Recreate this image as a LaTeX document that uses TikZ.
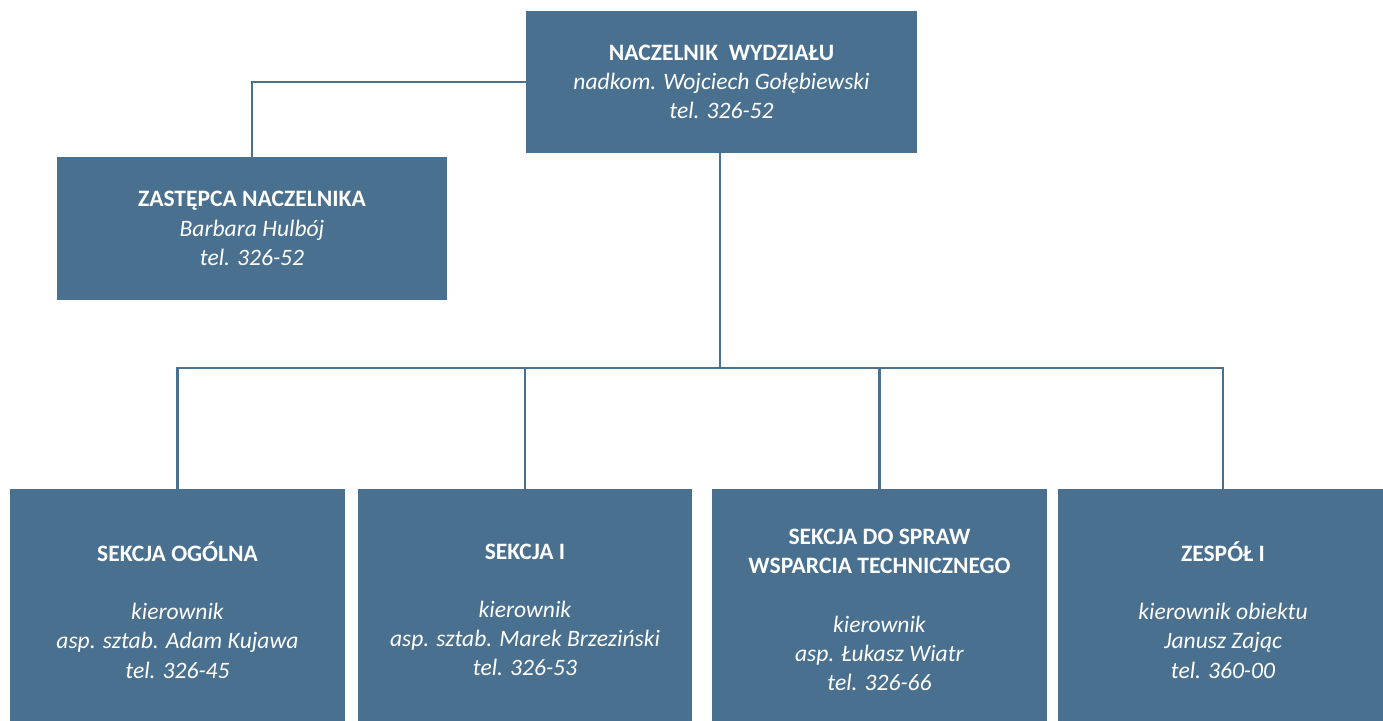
\documentclass[tikz,border=0pt]{standalone}
\usepackage{fontspec}
\setmainfont{Carlito}
\definecolor{boxblue}{RGB}{74,112,143}
\tikzset{
  unit/.style={fill=boxblue,text=white,align=center,inner sep=0pt,
    font=\fontsize{13.4}{16.6}\selectfont},
  link/.style={draw=boxblue,line width=1.2pt}
}
\begin{document}
\begin{tikzpicture}
\useasboundingbox (0,0) rectangle (27.66,14.4);

% Head of the department
\node[unit,minimum width=7.82cm,minimum height=2.84cm] (head) at (14.43,12.76)
  {\textbf{NACZELNIK\ \ WYDZIAŁU}\\\textit{nadkom. Wojciech Gołębiewski}\\\textit{tel. 326-52}};

% Deputy
\node[unit,minimum width=7.8cm,minimum height=2.86cm] (deputy) at (5.04,9.83)
  {\textbf{ZASTĘPCA NACZELNIKA}\\\textit{Barbara Hulbój}\\\textit{tel. 326-52}};

% Sections
\node[unit,minimum width=6.7cm,minimum height=4.84cm] (general) at (3.55,2.2)
  {\textbf{SEKCJA OGÓLNA}\\[16.6pt]\textit{kierownik}\\\textit{asp. sztab. Adam Kujawa}\\\textit{tel. 326-45}};
\node[unit,minimum width=6.68cm,minimum height=4.84cm] (sectionI) at (10.5,2.2)
  {\textbf{SEKCJA I}\\[16.6pt]\textit{kierownik}\\\textit{asp. sztab. Marek Brzeziński}\\\textit{tel. 326-53}};
\node[unit,minimum width=6.7cm,minimum height=4.84cm] (support) at (17.59,2.2)
  {\textbf{SEKCJA DO SPRAW}\\\textbf{WSPARCIA TECHNICZNEGO}\\[16.6pt]\textit{kierownik}\\\textit{asp. Łukasz Wiatr}\\\textit{tel. 326-66}};
\node[unit,minimum width=6.6cm,minimum height=4.84cm] (teamI) at (24.46,2.2)
  {\textbf{ZESPÓŁ I}\\[16.6pt]\textit{kierownik obiektu}\\\textit{Janusz Zając}\\\textit{tel. 360-00}};

% Connectors
\coordinate (bus) at (14.4,7.04);
\draw[link] (head.west) -| (deputy.north);
\draw[link] (head.south -| bus) -- (bus);
\draw[link] (general.north) |- (bus) -| (teamI.north);
\draw[link] (sectionI.north) -- (sectionI.north |- bus);
\draw[link] (support.north) -- (support.north |- bus);
\end{tikzpicture}
\end{document}
